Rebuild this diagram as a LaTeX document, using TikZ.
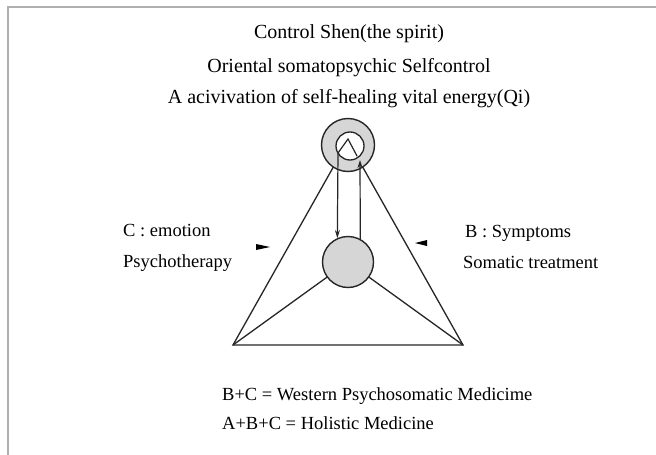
\documentclass[tikz,border=0pt]{standalone}
\usepackage{fontspec}
\setmainfont{Liberation Serif}
\usetikzlibrary{arrows.meta}
\definecolor{fillgray}{RGB}{214,214,214}
\definecolor{framegray}{RGB}{175,175,175}
\begin{document}
\begin{tikzpicture}[x=1pt,y=-1pt,
  lbl/.style={font=\fontsize{18.5}{20}\selectfont, inner sep=0pt, anchor=base west},
  ctr/.style={font=\fontsize{20}{22}\selectfont, inner sep=0pt, anchor=base},
  ln/.style={line width=1.3pt, black!85},
  flow/.style={line width=1.2pt, black!85, -{Stealth[length=8pt,width=5pt]}},
  ring/.style={circle, draw=black!85, line width=1.4pt, fill=fillgray, inner sep=0pt}
]
\useasboundingbox (0,0) rectangle (656,455);
\fill[white] (0,0) rectangle (656,455);
% frame (top and left edges)
\draw[framegray, line width=1.2pt] (8,455) -- (8,7) -- (656,7);

% titles
\node[ctr] (t1) at (349,38) {Control Shen(the spirit)};
\node[ctr] (t2) at (349,72) {Oriental somatopsychic Selfcontrol};
\node[ctr] (t3) at (349,103) {A acivivation of self-healing vital energy(Qi)};

% triangle
\coordinate (Apex) at (348,141);
\coordinate (BL) at (233,345);
\coordinate (BR) at (463,345);
\coordinate (Mc) at (348,262);
\draw[ln] (BL) -- (Apex) -- (BR) -- cycle;
\draw[ln] (BL) -- (Mc) -- (BR);

% circles
\node[ring, minimum size=53pt] (A) at (348,145) {};
\node[circle, draw=black!85, line width=1.3pt, fill=white, minimum size=28pt, inner sep=0pt] (Ai) at (350,146) {};
\node[ring, minimum size=51pt] (M) at (Mc) {};

% flow loop
\coordinate (up) at (360,160);
\coordinate (ap) at (348,139);
\coordinate (dn) at (338,153);
\draw[ln, line width=1.2pt] (357,156) -- (ap) -- (dn);
\draw[flow] (M.62) -- (up);
\draw[flow] (dn) -- (M.114);

% side labels
\node[lbl] (c1) at (123,236) {C : emotion};
\node[lbl] (c2) at (123,267) {Psychotherapy};
\node[lbl] (b1) at (465,237) {B : Symptoms};
\node[lbl] (b2) at (463,268) {Somatic treatment};

% markers
\fill[black] (256,244) -- (270,247) -- (256,250) -- cycle;
\fill[black] (427,240) -- (415,243) -- (427,246) -- cycle;

% bottom
\node[lbl] (f1) at (222,400) {B+C = Western Psychosomatic Medicime};
\node[lbl] (f2) at (222,429) {A+B+C = Holistic Medicine};
\end{tikzpicture}
\end{document}
